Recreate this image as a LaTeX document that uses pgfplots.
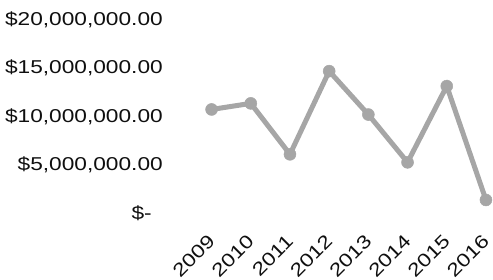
\documentclass[border=0pt]{standalone}
\usepackage{pgfplots}
\pgfplotsset{compat=1.18}
\usepackage{fontspec}
\setmainfont{Liberation Sans}
\usepackage{graphicx}
\newcommand\sx[1]{\scalebox{1.22}[1]{#1}}
\definecolor{linegray}{RGB}{166,166,166}
\definecolor{txt}{RGB}{15,15,15}
\begin{document}
\begin{tikzpicture}
\begin{axis}[
  name=ax,
  scale only axis,
  width=301bp, height=193bp,
  xmin=-0.5, xmax=7.18, ymin=0, ymax=20,
  clip=false,
  axis line style={draw=none},
  major tick length=0pt,
  tick style={draw=none},
  tick label style={font=\fontsize{18.6bp}{22bp}\selectfont, text=txt},
  xtick={0,1,2,3,4,5,6,7},
  xticklabels={\sx{2009},\sx{2010},\sx{2011},\sx{2012},\sx{2013},\sx{2014},\sx{2015},\sx{2016}},
  ytick={0,5,10,15,20},
  yticklabels={{\sx{\$-}\rule{11bp}{0pt}},{\sx{\$5,000,000.00}},{\sx{\$10,000,000.00}},{\sx{\$15,000,000.00}},{\sx{\$20,000,000.00}}},
  yticklabel style={anchor=east, inner sep=0pt, xshift=-29bp},
  xticklabel style={inner sep=0pt, yshift=-25bp, rotate=45, anchor=east},
]
\addplot[color=linegray, line width=5bp, mark=*, mark size=6bp,
  mark options={fill=linegray, draw=linegray, line width=0.5bp}]
  coordinates {(0,10.73) (1,11.36) (2,6.08) (3,14.7) (4,10.2) (5,5.25) (6,13.15) (7,1.35)};
\end{axis}
\pgfresetboundingbox
\path ([shift={(-192bp,-67bp)}]ax.south west) rectangle ([shift={(0bp,20bp)}]ax.north east);
\end{tikzpicture}
\end{document}
